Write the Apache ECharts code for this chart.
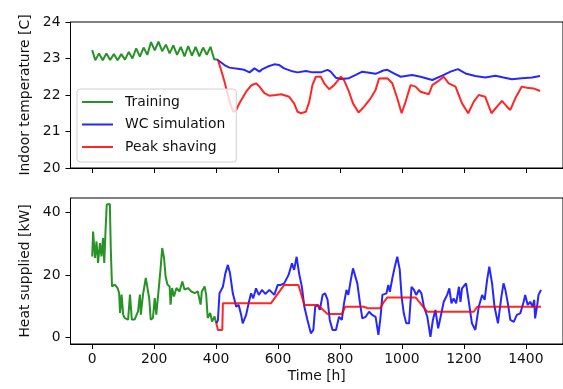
<!DOCTYPE html>
<html><head><meta charset="utf-8">
<script src="https://cdn.jsdelivr.net/npm/echarts@6/dist/echarts.min.js"></script>
<style>html,body{margin:0;padding:0;background:#fff}#c{width:563px;height:389px}</style>
</head><body><div id="c"></div>
<script>
// ---- Data ----
const xTicks = [0, 200, 400, 600, 800, 1000, 1200, 1400];
const tempTicks = [20, 21, 22, 23, 24];
const heatTicks = [0, 20, 40];

const tempTrainH = [0,10,22,34,46,58,70,82,94,106,118,130,142,154,166,178,190,202,214,226,238,250,262,274,286,298,310,322,334,346,358,370,382,394,402];
const tempTrainV = [23.23,22.95,23.14,22.95,23.14,22.96,23.12,22.95,23.12,22.97,23.18,23.0,23.28,23.05,23.3,23.1,23.45,23.22,23.46,23.2,23.38,23.14,23.36,23.1,23.32,23.06,23.34,23.08,23.32,23.06,23.3,23.1,23.32,22.97,22.98];

const tempWcH = [402,406,427,443,475,491,508,524,540,550,567,588,604,620,642,663,690,711,738,760,770,787,803,829,851,872,894,915,940,953,974,996,1033,1060,1098,1130,1157,1181,1205,1237,1269,1302,1328,1355,1387,1420,1446];
const tempWcV = [22.98,22.96,22.82,22.75,22.71,22.69,22.62,22.73,22.64,22.71,22.78,22.84,22.82,22.73,22.66,22.62,22.66,22.62,22.62,22.69,22.64,22.47,22.44,22.46,22.55,22.64,22.61,22.58,22.67,22.69,22.59,22.5,22.55,22.5,22.41,22.53,22.64,22.71,22.59,22.52,22.48,22.53,22.48,22.43,22.46,22.48,22.52];

const tempPsH = [406,416,427,438,449,456,465,475,497,513,529,540,556,572,593,610,636,652,663,674,690,701,711,722,738,749,765,781,803,813,829,842,860,878,899,915,926,953,969,985,999,1012,1028,1044,1060,1087,1098,1117,1135,1151,1173,1194,1214,1232,1248,1269,1289,1307,1323,1339,1350,1366,1387,1403,1425,1446];
const tempPsV = [22.96,22.69,22.37,22.0,21.68,21.54,21.59,21.77,22.09,22.26,22.32,22.23,22.05,21.98,22.0,22.02,21.95,21.77,21.54,21.5,21.54,21.82,22.27,22.5,22.5,22.32,22.16,22.27,22.5,22.41,22.09,21.77,21.52,21.68,21.91,22.14,22.45,22.46,22.32,21.91,21.5,21.82,22.27,22.23,22.09,22.02,22.27,22.38,22.5,22.32,22.23,21.77,21.5,21.82,22.0,21.95,21.5,21.68,21.84,21.68,21.59,21.91,22.23,22.2,22.18,22.11];

const heatTrainH = [0,3,9,14,19,25,30,35,39,43,47,57,60,64,73,82,87,90,95,100,105,116,122,128,137,148,154,157,164,173,178,184,189,196,202,207,215,221,226,232,237,243,250,253,258,264,272,282,291,298,309,320,331,341,350,354,363,368,373,381,387,395,400];
const heatTrainV = [26.0,34.0,25.5,30.8,23.9,30.3,26.0,31.9,23.9,34.0,42.6,42.8,28.7,16.4,17.0,15.9,14.3,7.9,13.8,7.4,6.3,5.8,13.8,5.8,5.8,8.4,13.8,7.4,13.8,19.1,19.1,12.7,5.8,6.3,12.7,7.4,15.9,22.3,28.7,25.5,19.6,17.0,16.4,10.6,15.9,13.2,15.9,14.8,18.0,15.4,15.9,14.8,14.3,14.8,10.6,14.8,16.4,13.8,6.3,7.9,5.2,6.8,4.7];

const heatWcH = [402,406,411,422,430,438,445,454,465,473,481,486,497,505,513,520,529,538,548,559,572,588,599,609,620,634,645,652,660,668,677,685,695,706,714,720,728,735,744,752,760,767,776,787,797,806,813,821,827,835,842,848,856,864,872,883,894,904,915,924,931,937,942,950,956,961,969,977,985,993,999,1006,1014,1023,1031,1039,1046,1055,1063,1071,1082,1092,1100,1108,1117,1125,1135,1146,1153,1160,1167,1175,1184,1189,1194,1207,1216,1226,1237,1248,1259,1267,1275,1282,1291,1299,1310,1321,1328,1334,1342,1350,1361,1371,1382,1393,1398,1406,1414,1422,1427,1430,1436,1441,1449];
const heatWcV = [4.7,5.7,14.2,16.3,20.6,23.3,20.6,14.2,9.9,10.5,7.3,4.6,7.3,11.0,14.2,12.6,15.8,13.7,15.3,14.0,15.3,13.7,16.9,16.9,17.4,20.1,23.8,21.7,25.9,20.6,16.3,9.9,5.7,1.4,2.5,9.9,10.5,8.9,13.7,14.2,12.1,5.7,2.5,2.5,6.7,5.7,11.0,15.3,13.7,18.5,22.2,22.7,17.4,11.5,6.2,6.7,8.3,7.3,6.7,0.9,6.7,13.7,14.2,14.2,16.9,14.7,19.0,22.7,25.9,21.7,13.1,7.8,4.6,4.6,16.3,15.3,13.7,15.3,14.2,9.9,6.7,0.3,5.7,8.9,3.0,6.7,11.5,13.7,15.8,11.0,12.6,11.0,16.3,11.5,15.8,17.4,11.5,4.6,2.5,9.9,13.7,12.1,18.5,22.7,17.4,9.9,4.6,13.1,17.4,15.3,11.0,5.7,5.1,7.3,7.8,11.5,13.7,10.5,11.5,9.9,12.1,6.2,9.9,13.7,15.3];

const heatPsH = [400,406,420,422,577,620,666,685,728,760,806,817,878,890,930,942,953,1044,1082,1232,1243,1449];
const heatPsV = [5.0,2.5,2.5,11.0,11.0,16.9,16.9,10.5,10.5,7.6,7.6,9.9,9.9,9.4,9.4,11.5,12.9,12.9,8.3,8.3,9.9,9.9];

// ---- Build ----
const zip = (a, b) => a.map((x, i) => [x, b[i]]);
const FONT = 'DejaVu Sans';
const TXT = '#111';
const GREEN = '#008000', BLUE = '#0000ff', RED = '#ff0000';

function xAx(gi, showLabels) {
  return {
    type: 'value', gridIndex: gi, min: -70, max: 1520,
    axisLine: { show: true, onZero: false, lineStyle: { color: '#000', width: 1 } },
    axisTick: { show: true, inside: false, length: 5, customValues: xTicks, lineStyle: { color: '#000', width: 1 } },
    axisLabel: { show: showLabels, customValues: xTicks, margin: 8, fontFamily: FONT, fontSize: 13.9, color: TXT,
                 formatter: v => String(v) },
    splitLine: { show: false },
    name: showLabels ? 'Time [h]' : '', nameLocation: 'middle', nameGap: 25,
    nameTextStyle: { fontFamily: FONT, fontSize: 13.9, color: TXT }
  };
}
function yAx(gi, min, max, ticks, name) {
  return {
    type: 'value', gridIndex: gi, min: min, max: max,
    axisLine: { show: true, onZero: false, lineStyle: { color: '#000', width: 1 } },
    axisTick: { show: true, inside: false, length: 5, customValues: ticks, lineStyle: { color: '#000', width: 1 } },
    axisLabel: { show: true, customValues: ticks, margin: 10, fontFamily: FONT, fontSize: 13.9, color: TXT,
                 formatter: v => String(v) },
    splitLine: { show: false },
    name: name, nameLocation: 'middle', nameGap: 32,
    nameTextStyle: { fontFamily: FONT, fontSize: 13.9, color: TXT }
  };
}
function line(name, xi, data, color) {
  return {
    name: name, type: 'line', xAxisIndex: xi, yAxisIndex: xi, data: data,
    symbol: 'none', showSymbol: false, smooth: false, animation: false,
    lineStyle: { color: color, width: 2, opacity: 0.85 }, itemStyle: { color: color, opacity: 0.85 },
    emphasis: { disabled: true }
  };
}

const chart = echarts.init(document.getElementById('c'), null, { renderer: 'canvas' });
chart.setOption({
  animation: false,
  backgroundColor: '#fff',
  grid: [
    { left: 70.5, top: 22, width: 494, height: 146, show: true, borderColor: '#000', borderWidth: 1, backgroundColor: 'transparent' },
    { left: 70.5, top: 198, width: 494, height: 146, show: true, borderColor: '#000', borderWidth: 1, backgroundColor: 'transparent' }
  ],
  xAxis: [xAx(0, false), xAx(1, true)],
  yAxis: [yAx(0, 20, 24, tempTicks, 'Indoor temperature [C]'), yAx(1, -2.0, 44.7, heatTicks, 'Heat supplied [kW]')],
  legend: {
    orient: 'vertical', left: 77, top: 89,
    backgroundColor: 'rgba(255,255,255,0.8)', borderColor: '#d0d0d0', borderWidth: 1, borderRadius: 3,
    padding: [6, 11, 8, 5], itemGap: 8.5, itemWidth: 31, itemHeight: 2,
    icon: 'rect',
    textStyle: { fontFamily: FONT, fontSize: 13.9, color: TXT, padding: [0, 0, 0, 7], lineHeight: 14 },
    data: ['Training', 'WC simulation', 'Peak shaving'],
    selectedMode: false
  },
  series: [
    line('Training', 0, zip(tempTrainH, tempTrainV), GREEN),
    line('WC simulation', 0, zip(tempWcH, tempWcV), BLUE),
    line('Peak shaving', 0, zip(tempPsH, tempPsV), RED),
    line('Training', 1, zip(heatTrainH, heatTrainV), GREEN),
    line('WC simulation', 1, zip(heatWcH, heatWcV), BLUE),
    line('Peak shaving', 1, zip(heatPsH, heatPsV), RED)
  ]
});
</script>
</body></html>
